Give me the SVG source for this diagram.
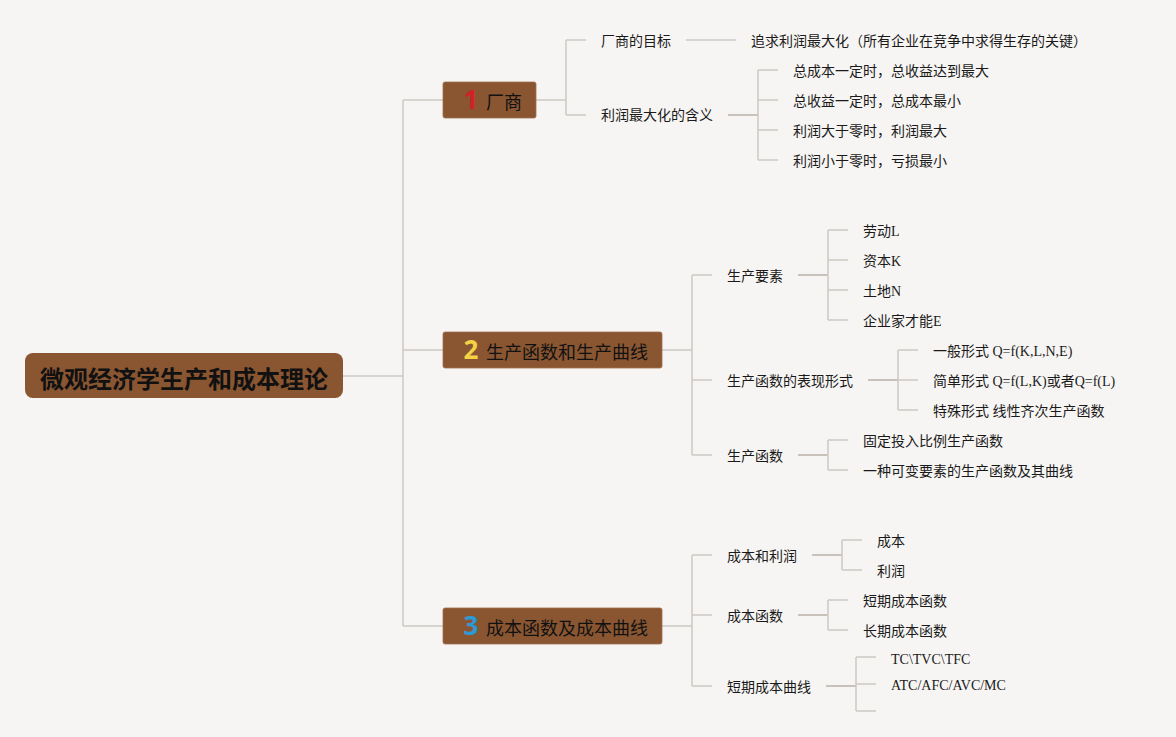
<svg xmlns="http://www.w3.org/2000/svg" width="1176" height="737" viewBox="0 0 1176 737">
<style>
.bg{fill:#f7f5f3}
.c{fill:none;stroke:#cdc9c5;stroke-width:1.5}
.cb{fill:none;stroke:#b9b0a8;stroke-width:1.5}
.box{fill:#8a5631;stroke:#a0704a;stroke-width:0.8}
.t{font-family:"Liberation Serif","Noto Sans CJK SC",serif;font-size:14px;fill:#1a1a1a;dominant-baseline:central}
.n{font-family:"Noto Sans CJK SC",sans-serif;font-size:18px;fill:#111;dominant-baseline:central}
.num{font-family:"Open Sans","Noto Sans",sans-serif;font-size:26px;font-weight:bold;dominant-baseline:central;text-anchor:middle}
.root{font-family:"Noto Sans CJK SC",sans-serif;font-size:24px;font-weight:bold;fill:#111;dominant-baseline:central;text-anchor:middle}
</style>
<rect class="bg" x="0" y="0" width="1176" height="737"/>
<g id="connectors">
<path class="c" d="M343 376H403M403 100V626M403 100H443M403 350H443M403 626H443"/>
<path class="c" d="M536 100H566M566 40V115M566 40H586M566 115H586"/>
<path class="c" d="M686 40H736"/>
<path class="cb" d="M728 115H758"/>
<path class="c" d="M758 70V160M758 70H778M758 100H778M758 130H778M758 160H778"/>
<path class="c" d="M662 350H692M692 275V455M692 275H712M692 380H712M692 455H712"/>
<path class="cb" d="M798 275H828"/>
<path class="c" d="M828 230V320M828 230H848M828 260H848M828 290H848M828 320H848"/>
<path class="cb" d="M868 380H898"/>
<path class="c" d="M898 350V410M898 350H918M898 380H918M898 410H918"/>
<path class="cb" d="M798 455H828"/>
<path class="c" d="M828 440V470M828 440H848M828 470H848"/>
<path class="c" d="M662 626H692M692 555V686M692 555H712M692 615H712M692 686H712"/>
<path class="cb" d="M812 555H842"/>
<path class="c" d="M842 540V570M842 540H862M842 570H862"/>
<path class="cb" d="M798 615H828"/>
<path class="c" d="M828 600V630M828 600H848M828 630H848"/>
<path class="cb" d="M826 686H856"/>
<path class="c" d="M856 657V711M856 657H876M856 684H876M856 711H876"/>
</g>
<g id="root">
<rect x="25" y="353" width="318" height="45" rx="8" fill="#8a5631"/>
<text class="root" x="184" y="377">微观经济学生产和成本理论</text>
</g>
<g id="n1">
<rect class="box" x="443" y="82" width="93" height="36" rx="2"/>
<text class="num" x="471" y="99" fill="#d42029">1</text>
<text class="n" x="486" y="101">厂商</text>
</g>
<g id="n2">
<rect class="box" x="443" y="332" width="219" height="36" rx="2"/>
<text class="num" x="471" y="349" fill="#f4d245">2</text>
<text class="n" x="486" y="351">生产函数和生产曲线</text>
</g>
<g id="n3">
<rect class="box" x="443" y="608" width="219" height="36" rx="2"/>
<text class="num" x="471" y="625" fill="#2b9ad6">3</text>
<text class="n" x="486" y="627">成本函数及成本曲线</text>
</g>
<g id="n1-children">
<text class="t" x="601" y="41">厂商的目标</text>
<text class="t" x="751" y="41">追求利润最大化（所有企业在竞争中求得生存的关键）</text>
<text class="t" x="601" y="115">利润最大化的含义</text>
<text class="t" x="793" y="71">总成本一定时，总收益达到最大</text>
<text class="t" x="793" y="101">总收益一定时，总成本最小</text>
<text class="t" x="793" y="131">利润大于零时，利润最大</text>
<text class="t" x="793" y="161">利润小于零时，亏损最小</text>
</g>
<g id="n2-children">
<text class="t" x="727" y="276">生产要素</text>
<text class="t" x="863" y="231">劳动L</text>
<text class="t" x="863" y="261">资本K</text>
<text class="t" x="863" y="291">土地N</text>
<text class="t" x="863" y="321">企业家才能E</text>
<text class="t" x="727" y="381">生产函数的表现形式</text>
<text class="t" x="933" y="351">一般形式 Q=f(K,L,N,E)</text>
<text class="t" x="933" y="381">简单形式 Q=f(L,K)或者Q=f(L)</text>
<text class="t" x="933" y="411">特殊形式 线性齐次生产函数</text>
<text class="t" x="727" y="456">生产函数</text>
<text class="t" x="863" y="441">固定投入比例生产函数</text>
<text class="t" x="863" y="471">一种可变要素的生产函数及其曲线</text>
</g>
<g id="n3-children">
<text class="t" x="727" y="556">成本和利润</text>
<text class="t" x="877" y="541">成本</text>
<text class="t" x="877" y="571">利润</text>
<text class="t" x="727" y="616">成本函数</text>
<text class="t" x="863" y="601">短期成本函数</text>
<text class="t" x="863" y="631">长期成本函数</text>
<text class="t" x="727" y="687">短期成本曲线</text>
<text class="t" x="891" y="659">TC\TVC\TFC</text>
<text class="t" x="891" y="685">ATC/AFC/AVC/MC</text>
</g>
</svg>
